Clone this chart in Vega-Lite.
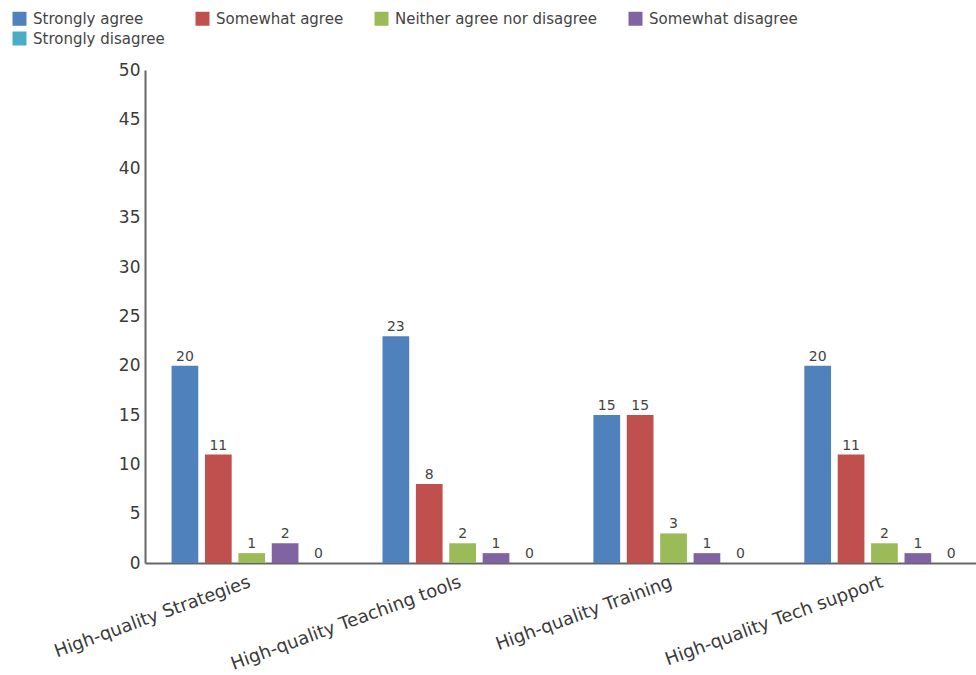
{
  "$schema": "https://vega.github.io/schema/vega-lite/v6.json",
  "width": 831,
  "height": 493,
  "autosize": {"type": "none"},
  "padding": {"left": 145, "top": 70, "right": 0, "bottom": 112},
  "background": "white",
  "config": {
    "view": {"stroke": null},
    "font": "DejaVu Sans"
  },
  "data": {
    "values": [
      {"item": "High-quality Strategies", "response": "Strongly agree", "count": 20},
      {"item": "High-quality Strategies", "response": "Somewhat agree", "count": 11},
      {"item": "High-quality Strategies", "response": "Neither agree nor disagree", "count": 1},
      {"item": "High-quality Strategies", "response": "Somewhat disagree", "count": 2},
      {"item": "High-quality Strategies", "response": "Strongly disagree", "count": 0},
      {"item": "High-quality Teaching tools", "response": "Strongly agree", "count": 23},
      {"item": "High-quality Teaching tools", "response": "Somewhat agree", "count": 8},
      {"item": "High-quality Teaching tools", "response": "Neither agree nor disagree", "count": 2},
      {"item": "High-quality Teaching tools", "response": "Somewhat disagree", "count": 1},
      {"item": "High-quality Teaching tools", "response": "Strongly disagree", "count": 0},
      {"item": "High-quality Training", "response": "Strongly agree", "count": 15},
      {"item": "High-quality Training", "response": "Somewhat agree", "count": 15},
      {"item": "High-quality Training", "response": "Neither agree nor disagree", "count": 3},
      {"item": "High-quality Training", "response": "Somewhat disagree", "count": 1},
      {"item": "High-quality Training", "response": "Strongly disagree", "count": 0},
      {"item": "High-quality Tech support", "response": "Strongly agree", "count": 20},
      {"item": "High-quality Tech support", "response": "Somewhat agree", "count": 11},
      {"item": "High-quality Tech support", "response": "Neither agree nor disagree", "count": 2},
      {"item": "High-quality Tech support", "response": "Somewhat disagree", "count": 1},
      {"item": "High-quality Tech support", "response": "Strongly disagree", "count": 0}
    ]
  },
  "encoding": {
    "x": {
      "field": "item", "type": "nominal", "sort": null,
      "scale": {"paddingInner": 0.24, "paddingOuter": 0.09, "align": 0.7},
      "axis": {
        "title": null, "labelAngle": -20, "labelAlign": "right", "labelBaseline": "top",
        "labelFontSize": 18, "labelColor": "#3a3a3a", "labelPadding": 10, "labelOffset": -5,
        "ticks": false, "domainColor": "#666666", "domainWidth": 2, "labelLimit": 400
      }
    },
    "xOffset": {
      "field": "response", "type": "nominal",
      "sort": ["Strongly agree", "Somewhat agree", "Neither agree nor disagree", "Somewhat disagree", "Strongly disagree"],
      "scale": {"paddingInner": 0.2, "paddingOuter": 0}
    },
    "y": {
      "field": "count", "type": "quantitative",
      "scale": {"domain": [0, 50]},
      "axis": {
        "title": null, "values": [0, 5, 10, 15, 20, 25, 30, 35, 40, 45, 50],
        "grid": false, "ticks": false, "labelFontSize": 17, "labelColor": "#3a3a3a",
        "labelPadding": 5, "domainColor": "#666666", "domainWidth": 2
      }
    }
  },
  "layer": [
    {
      "mark": {"type": "bar"},
      "encoding": {
        "color": {
          "field": "response", "type": "nominal",
          "sort": ["Strongly agree", "Somewhat agree", "Neither agree nor disagree", "Somewhat disagree", "Strongly disagree"],
          "scale": {
            "domain": ["Strongly agree", "Somewhat agree", "Neither agree nor disagree", "Somewhat disagree", "Strongly disagree"],
            "range": ["#4f81bd", "#c0504d", "#9bbb59", "#8064a2", "#4bacc6"]
          },
          "legend": {
            "title": null, "orient": "none", "legendX": -133, "legendY": -59,
            "direction": "horizontal", "columns": 4, "columnPadding": 30, "rowPadding": 4,
            "symbolType": "square", "symbolSize": 196, "symbolStrokeWidth": 0,
            "labelOffset": 6, "labelFontSize": 15, "labelColor": "#444444", "labelLimit": 300
          }
        }
      }
    },
    {
      "mark": {"type": "text", "dy": -9, "fontSize": 14, "color": "#444444"},
      "encoding": {
        "text": {"field": "count", "type": "quantitative"}
      }
    }
  ]
}
